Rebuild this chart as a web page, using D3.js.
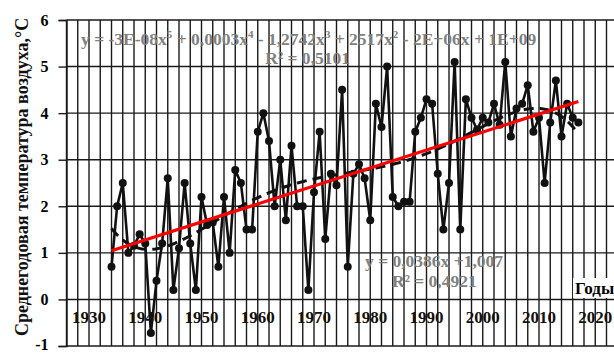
<!DOCTYPE html>
<html>
<head>
<meta charset="utf-8">
<script src="https://cdn.jsdelivr.net/npm/d3@7"></script>
<style>
  html, body { margin: 0; padding: 0; background: #fff; }
  svg { display: block; }
  text { font-family: "Liberation Serif", "Times New Roman", serif; font-weight: bold; }
</style>
</head>
<body>
<svg id="chart" width="614" height="353"></svg>
<script>
// Annual mean air temperature, 1934–2017
const years = d3.range(1934, 2018);
const temps = [
  0.7, 2.0, 2.5, 1.0, 1.15, 1.4, 1.2, -0.72, 0.4, 1.2,
  2.6, 0.2, 1.1, 2.5, 1.2, 0.2, 2.2, 1.6, 1.65, 0.7,
  2.2, 1.0, 2.78, 2.5, 1.5, 1.5, 3.6, 4.0, 3.4, 2.0,
  3.0, 1.7, 3.3, 2.0, 2.0, 0.2, 2.3, 3.6, 1.3, 2.7,
  2.45, 4.5, 0.7, 2.7, 2.9, 2.6, 1.7, 4.2, 3.7, 5.0,
  2.2, 2.0, 2.1, 2.1, 3.6, 3.9, 4.3, 4.2, 2.7, 1.5,
  2.5, 5.1, 1.5, 4.3, 3.9, 3.65, 3.9, 3.8, 4.2, 3.75,
  5.1, 3.5, 4.1, 4.2, 4.6, 3.6, 3.9, 2.5, 3.8, 4.7,
  3.5, 4.2, 3.9, 3.8
];
const yTicks = [-1, 0, 1, 2, 3, 4, 5, 6];
const xLabels = [1930, 1940, 1950, 1960, 1970, 1980, 1990, 2000, 2010, 2020];

// Linear trend as stated on the chart: y = 0,0386x + 1,007 (x = 1, 2, ... per year)
const linSlope = 0.0386, linIntercept = 1.007;
const polyText = ["y = -3E-08x", "5", " + 0,0003x", "4", " - 1,2742x", "3", " + 2517x", "2", " - 2E+06x + 1E+09"];
const polyR2 = "R² = 0,5101";
const linText = "y = 0,0386x +1,007";
const linR2 = "R² = 0,4921";
const yTitle = "Среднегодовая температура воздуха,°С";
const xTitle = "Годы";

const svg = d3.select("#chart");
const x = d3.scaleLinear().domain([1926, 2024]).range([66.5, 617.75]);
const y = d3.scaleLinear().domain([-1, 6]).range([346, 20]);
const plotRight = 614;

// grid
const grid = svg.append("g").attr("stroke", "#1a1a1a").attr("stroke-width", 1.4);
grid.selectAll("line.h").data(yTicks).join("line")
  .attr("x1", x(1926)).attr("x2", plotRight)
  .attr("y1", d => y(d)).attr("y2", d => y(d));
grid.selectAll("line.v").data(d3.range(1926, 2025, 2)).join("line")
  .attr("x1", d => x(d)).attr("x2", d => x(d))
  .attr("y1", y(6)).attr("y2", y(-1));

// y axis
const yAxis = d3.axisLeft(y).tickValues(yTicks).tickFormat(d3.format("d")).tickSize(8).tickPadding(10);
const gy = svg.append("g").attr("transform", `translate(${x(1926)},0)`).call(yAxis);
gy.select(".domain").attr("stroke", "#1a1a1a").attr("stroke-width", 1.4);
gy.selectAll(".tick line").attr("stroke", "#1a1a1a").attr("stroke-width", 1.4);
gy.selectAll(".tick text").attr("font-size", 16).attr("font-family", "Liberation Serif, serif")
  .attr("font-weight", "bold").attr("fill", "#000")
  .attr("dy", d => d < 0 ? "0.2em" : "0.32em")
  .text(d => d < 0 ? "-" + Math.abs(d) : d);

// x labels below the zero line
svg.append("g").selectAll("text").data(xLabels).join("text")
  .attr("x", d => x(d)).attr("y", y(0) + 24)
  .attr("text-anchor", "middle").attr("font-size", 17).attr("fill", "#111")
  .text(d => d);

// polynomial (5th order) least-squares trend computed from the series
function polyFit(xs, ys, deg) {
  const n = deg + 1;
  const A = Array.from({length: n}, () => new Array(n + 1).fill(0));
  xs.forEach((xv, k) => {
    for (let i = 0; i < n; i++) {
      for (let j = 0; j < n; j++) A[i][j] += Math.pow(xv, i + j);
      A[i][n] += ys[k] * Math.pow(xv, i);
    }
  });
  for (let c = 0; c < n; c++) {
    let p = c;
    for (let r = c + 1; r < n; r++) if (Math.abs(A[r][c]) > Math.abs(A[p][c])) p = r;
    [A[c], A[p]] = [A[p], A[c]];
    for (let r = 0; r < n; r++) {
      if (r === c) continue;
      const f = A[r][c] / A[c][c];
      for (let k = c; k <= n; k++) A[r][k] -= f * A[c][k];
    }
  }
  return A.map((row, i) => row[n] / row[i]);
}
const norm = yr => (yr - 1975.5) / 42;
const coef = polyFit(years.map(norm), temps, 5);
const polyVal = yr => coef.reduce((s, c, i) => s + c * Math.pow(norm(yr), i), 0);
const polyPts = d3.range(1934, 2017.01, 0.25).map(yr => [yr, polyVal(yr)]);

const line = d3.line().x(d => x(d[0])).y(d => y(d[1]));

// series line and markers
const pts = years.map((yr, i) => [yr, temps[i]]);
svg.append("path").datum(pts).attr("d", line)
  .attr("fill", "none").attr("stroke", "#111").attr("stroke-width", 2.6)
  .attr("stroke-linejoin", "round");
svg.append("g").selectAll("circle").data(pts).join("circle")
  .attr("cx", d => x(d[0])).attr("cy", d => y(d[1])).attr("r", 4).attr("fill", "#111");

// polynomial trend (dashed)
svg.append("path").datum(polyPts).attr("d", line)
  .attr("fill", "none").attr("stroke", "#111").attr("stroke-width", 3)
  .attr("stroke-dasharray", "10,6");

// linear trend (red)
const linPts = [[years[0], linIntercept + linSlope * 1],
                [years[years.length - 1], linIntercept + linSlope * years.length]];
svg.append("path").datum(linPts).attr("d", line)
  .attr("fill", "none").attr("stroke", "#ff0000").attr("stroke-width", 3.2);

// trend equations
const eqColor = "#808080";
const t1 = svg.append("text").attr("x", 81).attr("y", 45).attr("font-size", 17.5).attr("fill", eqColor);
polyText.forEach((s, i) => {
  const ts = t1.append("tspan").text(s);
  if (i % 2 === 1) ts.attr("font-size", 11).attr("dy", -7);
  else if (i > 0) ts.attr("dy", 7);
});
svg.append("text").attr("x", 350).attr("y", 64).attr("text-anchor", "end")
  .attr("font-size", 17.5).attr("fill", eqColor).text(polyR2);
svg.append("text").attr("x", 365).attr("y", 267).attr("font-size", 17.5).attr("fill", eqColor).text(linText);
svg.append("text").attr("x", 392).attr("y", 287).attr("font-size", 17.5).attr("fill", eqColor).text(linR2);

// axis titles
const gx = svg.append("g");
gx.append("rect").attr("x", 573).attr("y", 278).attr("width", 41).attr("height", 20).attr("fill", "#fff");
gx.append("text").attr("x", 575).attr("y", 294).attr("font-size", 17).attr("fill", "#000").text(xTitle);

svg.append("text")
  .attr("transform", "translate(22,177) rotate(-90)")
  .attr("text-anchor", "middle").attr("dominant-baseline", "central")
  .attr("font-size", 18).attr("fill", "#111").text(yTitle);
</script>
</body>
</html>
